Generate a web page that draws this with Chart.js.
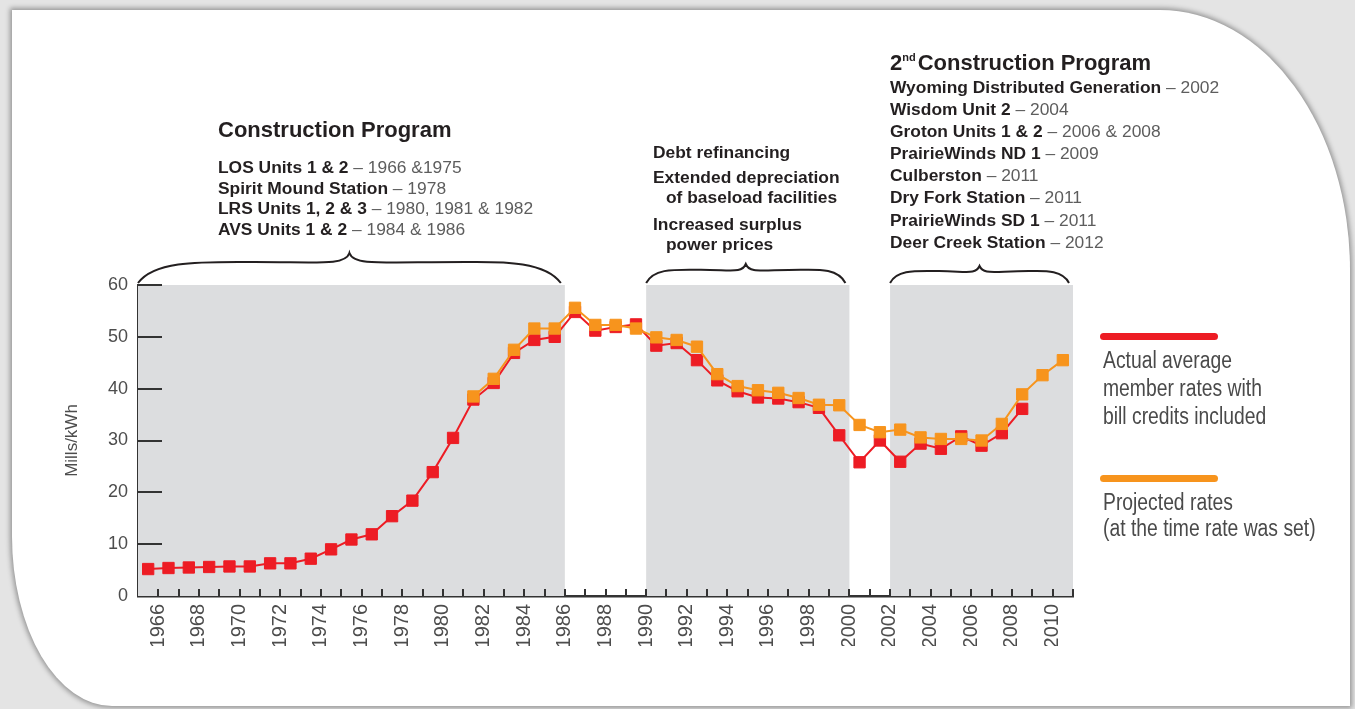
<!DOCTYPE html>
<html>
<head>
<meta charset="utf-8">
<script src="https://cdn.jsdelivr.net/npm/chart.js@4.4.1/dist/chart.umd.min.js"></script>
<style>
  body { margin: 0; width: 1355px; height: 709px; overflow: hidden; background: #e4e4e4; position: relative; font-family: "Liberation Sans", Arial, sans-serif; }
  #panel { position: absolute; left: 12px; top: 10px; width: 1338px; height: 696px; background: #fff;
           border-top-right-radius: 190px 260px; border-bottom-left-radius: 100px 170px;
           box-shadow: 0 0 5px 2px rgba(0,0,0,0.35); }
  #chart { position: absolute; left: 0; top: 0; }
  .txt { position: absolute; white-space: nowrap; color: #231f20; }
  .head { font-size: 22px; font-weight: bold; line-height: 26px; }
  .head sup { font-size: 11px; vertical-align: 9px; margin-right: 2px; }
  .items { font-size: 17.4px; }
  .items b { font-weight: bold; }
  .items span { color: #5d5d5d; }
  .legend { font-size: 23px; color: #4a4a4a; transform: scaleX(0.84); transform-origin: 0 0; }
  .swatch { position: absolute; left: 1100px; width: 118px; height: 7px; border-radius: 4px; }
</style>
</head>
<body>
<div id="panel"></div>
<canvas id="chart" width="1355" height="709"></canvas>

<div class="txt head" style="left:218px; top:117px;">Construction Program</div>
<div class="txt items" style="left:218px; top:157px; line-height:20.7px;">
  <div><b>LOS Units 1 &amp; 2</b><span> – 1966 &amp;1975</span></div>
  <div><b>Spirit Mound Station</b><span> – 1978</span></div>
  <div><b>LRS Units 1, 2 &amp; 3</b><span> – 1980, 1981 &amp; 1982</span></div>
  <div><b>AVS Units 1 &amp; 2</b><span> – 1984 &amp; 1986</span></div>
</div>

<div class="txt items" style="left:653px; top:142px; line-height:20px; font-weight:bold;">
  <div>Debt refinancing</div>
  <div style="margin-top:5px;">Extended depreciation</div>
  <div style="padding-left:13px;">of baseload facilities</div>
  <div style="margin-top:7px;">Increased surplus</div>
  <div style="padding-left:13px;">power prices</div>
</div>

<div class="txt head" style="left:890px; top:44px;">2<sup>nd</sup>Construction Program</div>
<div class="txt items" style="left:890px; top:76px; line-height:22.1px;">
  <div><b>Wyoming Distributed Generation</b><span> – 2002</span></div>
  <div><b>Wisdom Unit 2</b><span> – 2004</span></div>
  <div><b>Groton Units 1 &amp; 2</b><span> – 2006 &amp; 2008</span></div>
  <div><b>PrairieWinds ND 1</b><span> – 2009</span></div>
  <div><b>Culberston</b><span> – 2011</span></div>
  <div><b>Dry Fork Station</b><span> – 2011</span></div>
  <div><b>PrairieWinds SD 1</b><span> – 2011</span></div>
  <div><b>Deer Creek Station</b><span> – 2012</span></div>
</div>

<div class="swatch" style="top:333px; background:#ed1c24;"></div>
<div class="txt legend" style="left:1103px; top:346px; line-height:28px;">
  <div>Actual average</div>
  <div>member rates with</div>
  <div>bill credits included</div>
</div>
<div class="swatch" style="top:475px; background:#f7941d;"></div>
<div class="txt legend" style="left:1103px; top:489px; line-height:26px;">
  <div>Projected rates</div>
  <div>(at the time rate was set)</div>
</div>

<script>
const years = ['1966','1967','1968','1969','1970','1971','1972','1973','1974','1975',
  '1976','1977','1978','1979','1980','1981','1982','1983','1984','1985',
  '1986','1987','1988','1989','1990','1991','1992','1993','1994','1995',
  '1996','1997','1998','1999','2000','2001','2002','2003','2004','2005',
  '2006','2007','2008','2009','2010','2011'];

// actual average member rates, mills/kWh
const actualRates = [5.2, 5.4, 5.5, 5.6, 5.7, 5.7, 6.3, 6.3, 7.2, 9.0,
  10.9, 11.9, 15.4, 18.4, 23.9, 30.5, 37.9, 41.1, 46.9, 49.4,
  50.0, 54.8, 51.2, 51.9, 52.4, 48.3, 48.8, 45.5, 41.6, 39.5,
  38.3, 38.1, 37.4, 36.3, 31.0, 25.8, 30.0, 25.9, 29.4, 28.4,
  30.8, 29.0, 31.4, 36.1, null, null];

// projected rates at the time the rate was set
const projectedRates = [null, null, null, null, null, null, null, null, null, null,
  null, null, null, null, null, null, 38.5, 41.9, 47.5, 51.6,
  51.6, 55.6, 52.3, 52.3, 51.6, 49.9, 49.4, 48.1, 42.8, 40.5,
  39.7, 39.2, 38.2, 36.9, 36.8, 33.0, 31.6, 32.1, 30.6, 30.3,
  30.3, 30.0, 33.2, 38.9, 42.6, 45.5];

const yTicks = [10, 20, 30, 40, 50, 60];

// shaded periods (first year, last year)
const bandStart = ['1966', '1991', '2003'];
const bandEnd = ['1986', '2000', '2011'];

const red = '#ed1c24';
const orange = '#f7941d';
const sans = '"Liberation Sans", Arial, sans-serif';

function drawBrace(ctx, x0, x1, yb, depth) {
  const xc = (x0 + x1) / 2;
  const h = xc - x0;
  const ya = yb - depth * 0.7;
  const yt = yb - depth;
  ctx.beginPath();
  ctx.moveTo(x0, yb);
  ctx.bezierCurveTo(x0 + h * 0.08, ya - 2, x0 + h * 0.3, ya, x0 + h * 0.55, ya);
  ctx.bezierCurveTo(x0 + h * 0.85, ya, xc - 4, ya + 4, xc, yt);
  ctx.bezierCurveTo(xc + 4, ya + 4, x1 - h * 0.85, ya, x1 - h * 0.45, ya);
  ctx.bezierCurveTo(x1 - h * 0.3, ya, x1 - h * 0.08, ya - 2, x1, yb);
  ctx.stroke();
}

const bandsPlugin = {
  id: 'bands',
  beforeDatasetsDraw(chart) {
    const { ctx, chartArea, scales: { x } } = chart;
    const half = (x.getPixelForValue(1) - x.getPixelForValue(0)) / 2;
    const depths = [30, 19, 17];
    ctx.save();
    bandStart.forEach((s, i) => {
      const x0 = x.getPixelForValue(years.indexOf(s)) - half;
      const x1 = x.getPixelForValue(years.indexOf(bandEnd[i])) + half;
      ctx.fillStyle = '#dcdddf';
      ctx.fillRect(x0, chartArea.top, x1 - x0, chartArea.bottom - chartArea.top);
      ctx.strokeStyle = '#231f20';
      ctx.lineWidth = 2;
      drawBrace(ctx, x0, x1 - 4, chartArea.top - 2, depths[i]);
    });
    ctx.restore();
  },
  afterDraw(chart) {
    const { ctx, chartArea, scales: { x, y } } = chart;
    const half = (x.getPixelForValue(1) - x.getPixelForValue(0)) / 2;
    ctx.save();
    ctx.strokeStyle = '#333';
    ctx.lineWidth = 2;
    ctx.beginPath();
    for (let i = 1; i <= years.length; i++) {
      const px = Math.round(x.getPixelForValue(i - 1) + half);
      ctx.moveTo(px, chartArea.bottom);
      ctx.lineTo(px, chartArea.bottom - 7);
    }
    yTicks.forEach(v => {
      const py = Math.round(y.getPixelForValue(v));
      ctx.moveTo(chartArea.left, py);
      ctx.lineTo(chartArea.left + 24, py);
    });
    ctx.stroke();
    ctx.restore();
  }
};

const ctx = document.getElementById('chart').getContext('2d');
new Chart(ctx, {
  type: 'line',
  data: {
    labels: years,
    datasets: [
      {
        label: 'Actual average member rates with bill credits included',
        data: actualRates,
        borderColor: red,
        backgroundColor: red,
        borderWidth: 2,
        pointStyle: 'rect',
        pointRadius: 8,
        pointBorderWidth: 1,
        order: 1
      },
      {
        label: 'Projected rates (at the time rate was set)',
        data: projectedRates,
        borderColor: orange,
        backgroundColor: orange,
        borderWidth: 2,
        pointStyle: 'rect',
        pointRadius: 8,
        pointBorderWidth: 1,
        order: 0
      }
    ]
  },
  options: {
    responsive: false,
    animation: false,
    spanGaps: false,
    layout: { padding: { left: 62, right: 282, top: 285, bottom: 63 } },
    plugins: { legend: { display: false }, tooltip: { enabled: false } },
    scales: {
      x: {
        offset: true,
        grid: { display: false, drawTicks: false },
        border: { display: true, color: '#333', width: 2.5 },
        ticks: {
          autoSkip: false,
          minRotation: 90,
          maxRotation: 90,
          labelOffset: 10,
          padding: 8,
          color: '#4d4d4d',
          font: { family: sans, size: 20 },
          callback: (v, i) => (i % 2 === 0 ? years[i] : '')
        },
        afterFit: (scale) => { scale.height = 50; }
      },
      y: {
        min: 0,
        max: 60,
        grid: { display: false, drawTicks: false },
        border: { display: true, color: '#333', width: 2.5 },
        ticks: { stepSize: 10, padding: 10, color: '#4d4d4d', font: { family: sans, size: 18 } },
        title: {
          display: true,
          text: 'Mills/kWh',
          color: '#4d4d4d',
          font: { family: sans, size: 17 },
          padding: { top: 0, bottom: 20 }
        },
        afterFit: (scale) => { scale.width = 76; }
      }
    }
  },
  plugins: [bandsPlugin]
});
</script>
</body>
</html>
